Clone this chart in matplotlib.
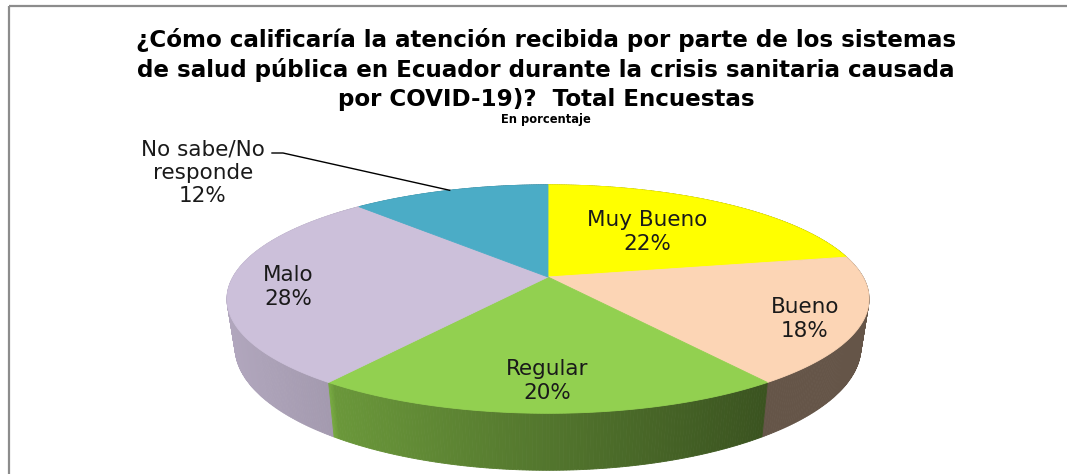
import matplotlib
matplotlib.use("Agg")
import matplotlib.pyplot as plt
from matplotlib.patches import Polygon
import numpy as np

# answers, clockwise from 12 o'clock
categories = ['Muy Bueno', 'Bueno', 'Regular', 'Malo', 'No sabe/No\nresponde']
shares = [22, 18, 20, 28, 12]
colors = ['#FFFF00', '#FCD5B5', '#92D050', '#CCC0DA', '#4BACC6']

title_lines = ['¿Cómo calificaría la atención recibida por parte de los sistemas',
               'de salud pública en Ecuador durante la crisis sanitaria causada',
               'por COVID-19)?  Total Encuestas']
subtitle = 'En porcentaje'

# label centres (pixels), same order as categories
label_pos = [(647, 232), (805, 319), (547, 381), (288, 287), (203, 173)]

W, H = 1067, 474
fig = plt.figure(figsize=(W / 100, H / 100), dpi=100)
ax = fig.add_axes([0, 0, 1, 1])
ax.set_xlim(0, W)
ax.set_ylim(H, 0)
ax.axis('off')

# 3d-ish pie: perspective disc, pixels
cx, cy = 548, 277
rx, ry = 315, 110
k = -0.193
depth = 46
shrink = 0.975


def top_pt(phi):
    # phi in radians, clockwise from top
    u = np.sin(phi)
    v = -np.cos(phi)
    d = 1 + k * v
    return cx + rx * u / d, cy + ry * v / d


def bot_pt(phi):
    x, y = top_pt(phi)
    v = -np.cos(phi)
    return cx + (x - cx) * shrink, y + depth / (1 + k * v)


def shade(x):
    return np.interp(x, [229, 334, 336, 765, 870], [0.87, 0.80, 0.73, 0.40, 0.40])


bounds = np.deg2rad(np.concatenate([[0], np.cumsum(shares)]) * 3.6)

# side wall, drawn back to front
quads = []
for i, c in enumerate(colors):
    base = np.array(matplotlib.colors.to_rgb(c))
    phis = np.linspace(bounds[i], bounds[i + 1], max(int(np.degrees(bounds[i + 1] - bounds[i]) * 2), 2))
    for a, b in zip(phis[:-1], phis[1:]):
        pts = [top_pt(a), top_pt(b), bot_pt(b), bot_pt(a)]
        xm = np.mean([p[0] for p in pts])
        col = np.clip(base * shade(xm), 0, 1)
        quads.append((-np.cos((a + b) / 2), pts, col))
for _, pts, col in sorted(quads, key=lambda q: q[0]):
    ax.add_patch(Polygon(pts, closed=True, fc=col, ec=col, lw=0.6))

# top face
for i, c in enumerate(colors):
    phis = np.linspace(bounds[i], bounds[i + 1], 200)
    pts = [(cx, cy)] + [top_pt(p) for p in phis]
    ax.add_patch(Polygon(pts, closed=True, fc=c, ec=c, lw=0.6))

# data labels
for i, (cat, val) in enumerate(zip(categories, shares)):
    ax.text(label_pos[i][0], label_pos[i][1], f'{cat}\n{val}%', ha='center', va='center',
            fontsize=15.5, color='#1a1a1a', linespacing=1.2, family='DejaVu Sans')

# leader line for the small slice
mid = (bounds[4] + bounds[5]) / 2
ex, ey = top_pt(mid)
ax.plot([272, 283, ex], [153, 153, ey], color='black', lw=1.0)

# title
for y, line in zip([40, 70, 99], title_lines):
    ax.text(546, y, line, ha='center', va='center', fontsize=16.6,
            fontweight='bold', family='DejaVu Sans', color='black')
ax.text(546, 119, subtitle, ha='center', va='center', fontsize=8.3,
        fontweight='bold', family='DejaVu Sans', color='black')

# chart frame
ax.plot([9, W], [5.5, 5.5], color='#8c8c8c', lw=1.6, solid_capstyle='butt')
ax.plot([9, 9], [5.5, H], color='#8c8c8c', lw=1.6, solid_capstyle='butt')

fig.savefig('out.png', dpi=100)
